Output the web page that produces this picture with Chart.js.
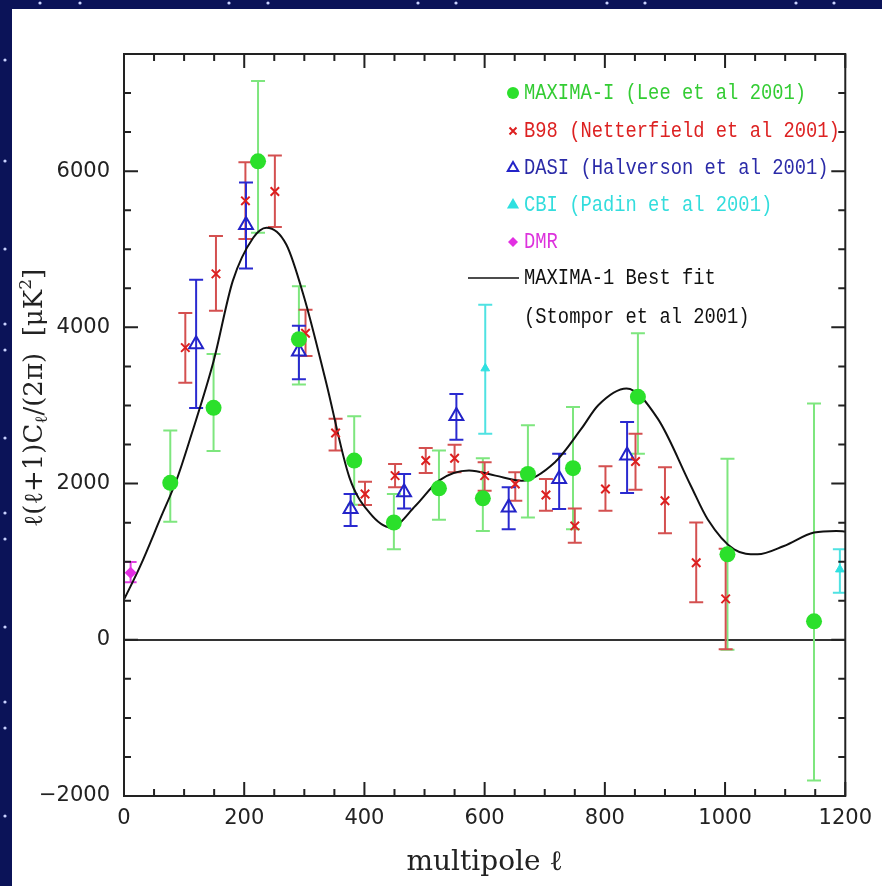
<!DOCTYPE html>
<html>
<head>
<meta charset="utf-8">
<title>CMB power spectrum</title>
<script src="https://cdn.jsdelivr.net/npm/chart.js@4.4.1/dist/chart.umd.min.js"></script>
<style>
  html, body { margin: 0; padding: 0; background: #0b1358; }
  canvas { display: block; }
</style>
</head>
<body>
<canvas id="cmbChart" width="882" height="886"></canvas>
<script>
// MAXIMA-I (Lee et al 2001)
const maximaL  = [77, 149, 223, 291, 383, 449, 524, 597, 672, 747, 855, 1004, 1148];
const maximaC  = [2010, 2970, 6126, 3848, 2295, 1502, 1939, 1811, 2124, 2197, 3111, 1094, 236];
const maximaLo = [1510, 2416, 5212, 3269, 1728, 1158, 1536, 1394, 1566, 1416, 2381, -129, -1802];
const maximaHi = [2680, 3659, 7155, 4526, 2861, 1866, 2424, 2325, 2746, 2982, 3925, 2317, 3024];

// B98 (Netterfield et al 2001)
const b98L  = [102, 153, 202, 251, 302, 352, 401, 451, 502, 550, 600, 651, 702, 750, 801, 851, 900, 952, 1001];
const b98C  = [3741, 4685, 5620, 5740, 3925, 2647, 1866, 2102, 2295, 2325, 2102, 1995, 1853, 1458, 1931, 2282, 1780, 987, 524];
const b98Lo = [3291, 4212, 5132, 5286, 3633, 2423, 1725, 1952, 2136, 2145, 1909, 1780, 1651, 1244, 1651, 1921, 1364, 480, -120];
const b98Hi = [4183, 5170, 6113, 6199, 4225, 2831, 2024, 2252, 2454, 2497, 2274, 2145, 2059, 1682, 2223, 2638, 2209, 1502, 1167];

// DASI (Halverson et al 2001)
const dasiL  = [120, 203, 291, 377, 466, 553, 640, 724, 837];
const dasiC  = [3784, 5311, 3690, 1673, 1888, 2866, 1695, 2059, 2359];
const dasiLo = [2969, 4753, 3337, 1458, 1682, 2561, 1416, 1673, 1879];
const dasiHi = [4611, 5856, 4020, 1866, 2124, 3146, 1952, 2381, 2789];

// CBI (Padin et al 2001)
const cbiL  = [601, 1191];
const cbiC  = [3475, 901];
const cbiLo = [2638, 601];
const cbiHi = [4290, 1158];

// DMR
const dmrL  = [11];
const dmrC  = [858];
const dmrLo = [737];
const dmrHi = [995];

// MAXIMA-1 best fit (Stompor et al 2001)
const fitL = [0, 27, 60, 88, 110, 149, 181, 215, 237, 270, 300, 336, 375, 408, 444, 485, 524, 574, 618, 662, 717, 761, 789, 836, 888, 943, 971, 1015, 1054, 1098, 1148, 1185, 1200];
const fitC = [515, 943, 1544, 2059, 2574, 3565, 4595, 5148, 5277, 5062, 4376, 3304, 2080, 1630, 1438, 1716, 2037, 2166, 2102, 2037, 2274, 2703, 3003, 3217, 2831, 1973, 1544, 1158, 1094, 1201, 1373, 1394, 1385];

// axis ticks
const xTicks = [0, 200, 400, 600, 800, 1000, 1200];
const yTicks = [-2000, 0, 2000, 4000, 6000];

function pts(xs, ys) {
    return xs.map((x, i) => ({x: x, y: ys[i]}));
}

// starry frame round the white panel
const starBg = {
    id: 'starBg',
    beforeDraw(chart) {
        const ctx = chart.ctx;
        ctx.save();
        ctx.fillStyle = '#0b1358';
        ctx.fillRect(0, 0, chart.width, chart.height);
        ctx.fillStyle = '#ffffff';
        ctx.fillRect(12, 9, chart.width - 12, chart.height - 9);
        ctx.fillStyle = '#c9d2ff';
        [40, 80, 229, 268, 418, 456, 607, 645, 796, 834].forEach(x => {
            ctx.beginPath(); ctx.arc(x, 3, 1.6, 0, Math.PI * 2); ctx.fill();
        });
        [60, 161, 249, 324, 350, 438, 513, 539, 627, 702, 728, 816].forEach(y => {
            ctx.beginPath(); ctx.arc(5, y, 1.6, 0, Math.PI * 2); ctx.fill();
        });
        ctx.restore();
    }
};

// vertical error bars with caps
const errorBars = {
    id: 'errorBars',
    beforeDatasetsDraw(chart) {
        const ctx = chart.ctx;
        const xs = chart.scales.x, ys = chart.scales.y;
        const a = chart.chartArea;
        ctx.save();
        ctx.beginPath();
        ctx.rect(a.left, a.top, a.right - a.left, a.bottom - a.top);
        ctx.clip();
        chart.data.datasets.forEach(ds => {
            if (!ds.errLo) return;
            ctx.strokeStyle = ds.errColor;
            ctx.lineWidth = 2;
            ds.data.forEach((p, i) => {
                const px = xs.getPixelForValue(p.x);
                const lo = ys.getPixelForValue(ds.errLo[i]);
                const hi = ys.getPixelForValue(ds.errHi[i]);
                const w = ds.capHalf;
                ctx.beginPath();
                ctx.moveTo(px, lo); ctx.lineTo(px, hi);
                ctx.moveTo(px - w, lo); ctx.lineTo(px + w, lo);
                ctx.moveTo(px - w, hi); ctx.lineTo(px + w, hi);
                ctx.stroke();
            });
        });
        ctx.restore();
    }
};

function marker(ctx, style, x, y, r, color, fill) {
    ctx.save();
    ctx.strokeStyle = color;
    ctx.fillStyle = fill;
    ctx.lineWidth = 2;
    ctx.beginPath();
    if (style === 'circle') {
        ctx.arc(x, y, r, 0, Math.PI * 2);
        ctx.fill();
    } else if (style === 'crossRot') {
        ctx.moveTo(x - r * 0.7, y - r * 0.7); ctx.lineTo(x + r * 0.7, y + r * 0.7);
        ctx.moveTo(x + r * 0.7, y - r * 0.7); ctx.lineTo(x - r * 0.7, y + r * 0.7);
        ctx.stroke();
    } else if (style === 'triangle') {
        ctx.moveTo(x, y - r);
        ctx.lineTo(x + r * 0.87, y + r * 0.5);
        ctx.lineTo(x - r * 0.87, y + r * 0.5);
        ctx.closePath();
        ctx.fill();
        ctx.stroke();
    } else if (style === 'rectRot') {
        ctx.moveTo(x, y - r); ctx.lineTo(x + r, y); ctx.lineTo(x, y + r); ctx.lineTo(x - r, y);
        ctx.closePath();
        ctx.fill();
    }
    ctx.restore();
}

// frame, inward ticks, y title and the legend box
const frameDeco = {
    id: 'frameDeco',
    afterDraw(chart) {
        const ctx = chart.ctx;
        const a = chart.chartArea;
        const xs = chart.scales.x, ys = chart.scales.y;
        ctx.save();
        ctx.strokeStyle = '#222';
        ctx.lineWidth = 2;
        ctx.strokeRect(a.left, a.top, a.right - a.left, a.bottom - a.top);
        ctx.beginPath();
        for (let v = 0; v <= 1200; v += 50) {
            const len = v % 200 === 0 ? 14 : 7;
            const px = xs.getPixelForValue(v);
            ctx.moveTo(px, a.bottom); ctx.lineTo(px, a.bottom - len);
            ctx.moveTo(px, a.top); ctx.lineTo(px, a.top + len);
        }
        for (let v = -2000; v <= 7500; v += 500) {
            const len = v % 2000 === 0 ? 14 : 7;
            const py = ys.getPixelForValue(v);
            ctx.moveTo(a.left, py); ctx.lineTo(a.left + len, py);
            ctx.moveTo(a.right, py); ctx.lineTo(a.right - len, py);
        }
        ctx.stroke();

        // y axis title with sub/superscripts
        ctx.translate(33, 398);
        ctx.rotate(-Math.PI / 2);
        ctx.fillStyle = '#222';
        ctx.textBaseline = 'alphabetic';
        const big = '26px "DejaVu Serif"', small = '17px "DejaVu Serif"';
        const parts = [
            ['ℓ(ℓ+1)C', big, 0],
            ['ℓ', small, 5],
            ['/(2π)  [μK', big, 0],
            ['2', small, -11],
            [']', big, 0]
        ];
        let total = 0;
        parts.forEach(p => { ctx.font = p[1]; total += ctx.measureText(p[0]).width; });
        let x = -total / 2;
        parts.forEach(p => {
            ctx.font = p[1];
            ctx.fillText(p[0], x, 9 + p[2]);
            x += ctx.measureText(p[0]).width;
        });
        ctx.restore();

        // legend
        ctx.save();
        ctx.font = '20px "Liberation Mono"';
        ctx.textBaseline = 'middle';
        const rows = [93, 131, 168, 205, 242, 278];
        chart.data.datasets.forEach((ds, i) => {
            const y = rows[i];
            const lines = ds.label.split('\n');
            if (ds.showLine) {
                ctx.strokeStyle = ds.borderColor;
                ctx.lineWidth = 1.5;
                ctx.beginPath(); ctx.moveTo(468, y); ctx.lineTo(519, y); ctx.stroke();
            } else {
                marker(ctx, ds.pointStyle, 513, y, ds.legendR, ds.borderColor, ds.legendFill);
            }
            ctx.fillStyle = ds.legendColor;
            lines.forEach((t, k) => {
                ctx.save();
                ctx.translate(524, y + k * 39);
                ctx.scale(0.94, 1.08);
                ctx.fillText(t, 0, 0);
                ctx.restore();
            });
        });
        ctx.restore();
    }
};

const data = {
    datasets: [
        {
            label: 'MAXIMA-I (Lee et al 2001)',
            data: pts(maximaL, maximaC),
            errLo: maximaLo, errHi: maximaHi, errColor: '#7ee67e', capHalf: 7,
            pointStyle: 'circle', pointRadius: 8,
            backgroundColor: '#2be02b', borderColor: '#2be02b', borderWidth: 0,
            legendColor: '#33cc33', legendFill: '#2be02b', legendR: 6
        },
        {
            label: 'B98 (Netterfield et al 2001)',
            data: pts(b98L, b98C),
            errLo: b98Lo, errHi: b98Hi, errColor: '#d45050', capHalf: 7,
            pointStyle: 'crossRot', pointRadius: 6,
            backgroundColor: '#dd1f1f', borderColor: '#dd1f1f', borderWidth: 2,
            legendColor: '#dd2222', legendFill: '#dd1f1f', legendR: 5
        },
        {
            label: 'DASI (Halverson et al 2001)',
            data: pts(dasiL, dasiC),
            errLo: dasiLo, errHi: dasiHi, errColor: '#2a2ad0', capHalf: 7,
            pointStyle: 'triangle', pointRadius: 8,
            backgroundColor: 'rgba(255,255,255,0)', borderColor: '#2323c8', borderWidth: 2,
            legendColor: '#2b2ba8', legendFill: '#ffffff', legendR: 6
        },
        {
            label: 'CBI (Padin et al 2001)',
            data: pts(cbiL, cbiC),
            errLo: cbiLo, errHi: cbiHi, errColor: '#4fe2e2', capHalf: 7,
            pointStyle: 'triangle', pointRadius: 5,
            backgroundColor: '#2ee0e0', borderColor: '#2ee0e0', borderWidth: 1,
            legendColor: '#33dddd', legendFill: '#2ee0e0', legendR: 5
        },
        {
            label: 'DMR',
            data: pts(dmrL, dmrC),
            errLo: dmrLo, errHi: dmrHi, errColor: '#e040e0', capHalf: 6,
            pointStyle: 'rectRot', pointRadius: 6,
            backgroundColor: '#e22fe2', borderColor: '#e22fe2', borderWidth: 0,
            legendColor: '#dd33dd', legendFill: '#e22fe2', legendR: 5
        },
        {
            label: 'MAXIMA-1 Best fit\n(Stompor et al 2001)',
            data: pts(fitL, fitC),
            showLine: true,
            cubicInterpolationMode: 'monotone',
            pointRadius: 0,
            borderColor: '#111111', borderWidth: 2,
            legendColor: '#111111',
            order: 10
        }
    ]
};

const config = {
    type: 'scatter',
    data: data,
    options: {
        responsive: false,
        animation: false,
        layout: {
            padding: {top: 54, right: 32, left: 0, bottom: 0}
        },
        plugins: {
            legend: {display: false},
            tooltip: {enabled: false}
        },
        scales: {
            x: {
                type: 'linear',
                min: 0,
                max: 1200,
                afterBuildTicks: s => { s.ticks = xTicks.map(v => ({value: v})); },
                afterFit: s => { s.height = 90; },
                grid: {display: false, drawTicks: false},
                border: {display: false},
                ticks: {
                    color: '#222',
                    padding: 10,
                    maxRotation: 0,
                    font: {family: 'DejaVu Sans', size: 21},
                    callback: v => String(v)
                },
                title: {
                    display: true,
                    text: 'multipole ℓ',
                    color: '#222',
                    padding: {top: 0, bottom: 6},
                    font: {family: 'DejaVu Serif', size: 28}
                }
            },
            y: {
                type: 'linear',
                min: -2000,
                max: 7500,
                afterBuildTicks: s => { s.ticks = yTicks.map(v => ({value: v})); },
                afterFit: s => { s.width = 124; },
                grid: {
                    drawTicks: false,
                    lineWidth: 2,
                    color: c => (c.tick && c.tick.value === 0) ? '#333' : 'rgba(0,0,0,0)'
                },
                border: {display: false},
                ticks: {
                    color: '#222',
                    padding: 14,
                    font: {family: 'DejaVu Sans', size: 21},
                    callback: v => v < 0 ? '\u2212' + Math.abs(v) : String(v)
                }
            }
        }
    },
    plugins: [starBg, errorBars, frameDeco]
};

const cmbChart = new Chart(document.getElementById('cmbChart'), config);
</script>
</body>
</html>
